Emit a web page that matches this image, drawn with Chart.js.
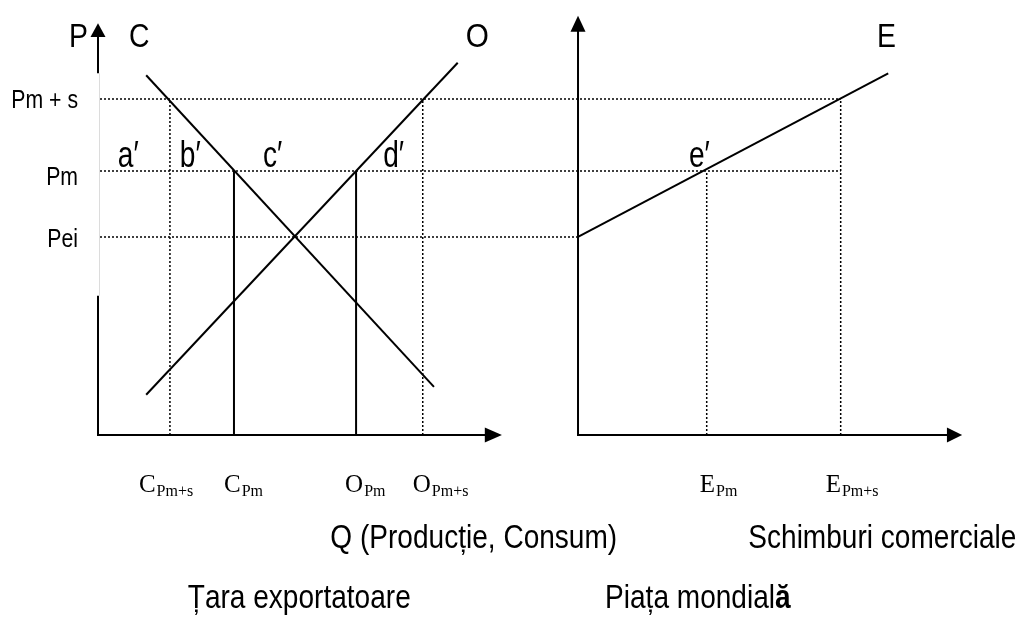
<!DOCTYPE html>
<html>
<head>
<meta charset="utf-8">
<script src="https://cdn.jsdelivr.net/npm/chart.js@4/dist/chart.umd.min.js"></script>
<style>
  html, body { margin: 0; padding: 0; background: #fff; }
  canvas { display: block; }
</style>
</head>
<body>
<canvas id="diagram" width="1020" height="617"></canvas>
<script>
// price levels (vertical axis, both panels)
var priceNames = ["Pm + s", "Pm", "Pei"];
var priceLevels = [5.09, 4.0, 3.0];

// quantities in the exporting country
var qtyNames = [["C", "Pm+s"], ["C", "Pm"], ["O", "Pm"], ["O", "Pm+s"]];
var qtyValues = [1.09, 2.06, 3.91, 4.92];

// world market exports
var exportNames = [["E", "Pm"], ["E", "Pm+s"]];
var exportValues = [1.95, 3.98];

// curves: consumption C, production O, exports E
var demandQ = [0.73, 5.09];
var demandP = [5.45, 0.73];
var supplyQ = [0.73, 5.45];
var supplyP = [0.61, 5.64];
var exportQ = [0, 4.70];
var exportP = [3.0, 5.48];

var sans = '"Liberation Sans", Arial, sans-serif';
var serif = '"Liberation Serif", "Times New Roman", serif';

function pts(xs, ys) {
	return xs.map(function (v, i) { return { x: v, y: ys[i] }; });
}

function line(label, data, axis, dashed, width) {
	return {
		label: label,
		data: data,
		xAxisID: axis,
		showLine: true,
		borderColor: "#000",
		borderWidth: width || 2,
		borderDash: dashed ? [2, 2] : [],
		pointRadius: 0,
		fill: false,
		clip: false
	};
}

// write text squeezed sideways like the narrow font of the original
function say(ctx, txt, x, y, size, align, bold, sx) {
	sx = sx || 0.85;
	ctx.save();
	ctx.font = (bold ? "bold " : "") + size + "px " + sans;
	ctx.textAlign = align || "left";
	ctx.textBaseline = "alphabetic";
	ctx.fillStyle = "#000";
	ctx.translate(x, y);
	ctx.scale(sx, 1);
	ctx.fillText(txt, 0, 0);
	var w = ctx.measureText(txt).width * sx;
	ctx.restore();
	return w;
}

function subLabel(ctx, parts, x, y) {
	ctx.save();
	ctx.fillStyle = "#000";
	ctx.textAlign = "left";
	ctx.textBaseline = "alphabetic";
	ctx.font = "25px " + serif;
	ctx.fillText(parts[0], x, y);
	var w = ctx.measureText(parts[0]).width;
	ctx.font = "16px " + serif;
	ctx.fillText(parts[1], x + w + 1, y + 4);
	ctx.restore();
}

function dotted(ctx, x0, y0, x1, y1) {
	ctx.save();
	ctx.strokeStyle = "#000";
	ctx.lineWidth = 1.5;
	ctx.setLineDash([2, 2]);
	ctx.beginPath();
	ctx.moveTo(x0, y0);
	ctx.lineTo(x1, y1);
	ctx.stroke();
	ctx.restore();
}

function arrowUp(ctx, x, tip, base) {
	ctx.beginPath();
	ctx.moveTo(x, tip);
	ctx.lineTo(x - 7.5, base);
	ctx.lineTo(x + 7.5, base);
	ctx.closePath();
	ctx.fill();
}

function arrowRight(ctx, tip, base, y) {
	ctx.beginPath();
	ctx.moveTo(tip, y);
	ctx.lineTo(base, y - 7.5);
	ctx.lineTo(base, y + 7.5);
	ctx.closePath();
	ctx.fill();
}

var diagramPlugin = {
	id: "diagram",
	beforeDatasetsDraw: function (chart) {
		var ctx = chart.ctx;
		var x = chart.scales.x, x2 = chart.scales.x2, y = chart.scales.y;
		var left = x.getPixelForValue(0);
		// horizontal guides across both panels
		var ends = [x2.getPixelForValue(exportValues[1]), x2.getPixelForValue(exportValues[1]), x2.getPixelForValue(0)];
		priceLevels.forEach(function (p, i) {
			var py = Math.round(y.getPixelForValue(p));
			dotted(ctx, left + 2, py, ends[i], py);
		});
	},
	afterDatasetsDraw: function (chart) {
		var ctx = chart.ctx;
		var x = chart.scales.x, x2 = chart.scales.x2, y = chart.scales.y;
		var ox = x.getPixelForValue(0), ox2 = x2.getPixelForValue(0), oy = y.getPixelForValue(0);

		ctx.save();
		ctx.fillStyle = "#000";
		ctx.strokeStyle = "#000";
		ctx.lineWidth = 2;
		ctx.setLineDash([]);

		// left panel axes (the middle of the price axis is faded in the original)
		ctx.beginPath();
		ctx.moveTo(ox, y.getPixelForValue(6.05));
		ctx.lineTo(ox, y.getPixelForValue(5.48));
		ctx.moveTo(ox, y.getPixelForValue(2.11));
		ctx.lineTo(ox, oy);
		ctx.lineTo(x.getPixelForValue(5.9), oy);
		ctx.stroke();
		ctx.save();
		ctx.strokeStyle = "#dcdcdc";
		ctx.lineWidth = 1;
		ctx.beginPath();
		ctx.moveTo(ox + 1.5, y.getPixelForValue(5.48));
		ctx.lineTo(ox + 1.5, y.getPixelForValue(2.11));
		ctx.stroke();
		ctx.restore();
		arrowUp(ctx, ox, y.getPixelForValue(6.24), y.getPixelForValue(6.03));
		arrowRight(ctx, x.getPixelForValue(6.12), x.getPixelForValue(5.86), oy);

		// right panel axes
		ctx.beginPath();
		ctx.moveTo(ox2, y.getPixelForValue(6.13));
		ctx.lineTo(ox2, oy);
		ctx.lineTo(x2.getPixelForValue(5.6), oy);
		ctx.stroke();
		arrowUp(ctx, ox2, y.getPixelForValue(6.35), y.getPixelForValue(6.11));
		arrowRight(ctx, x2.getPixelForValue(5.82), x2.getPixelForValue(5.59), oy);
		ctx.restore();

		// price tick labels
		var nudge = [9, 14, 10];
		priceNames.forEach(function (name, i) {
			say(ctx, name, ox - 20, y.getPixelForValue(priceLevels[i]) + nudge[i], 25, "right");
		});

		// quantity tick labels
		var dx = [-31, -10, -11, -10];
		qtyNames.forEach(function (parts, i) {
			subLabel(ctx, parts, x.getPixelForValue(qtyValues[i]) + dx[i], oy + 57);
		});
		var dx2 = [-7, -15];
		exportNames.forEach(function (parts, i) {
			subLabel(ctx, parts, x2.getPixelForValue(exportValues[i]) + dx2[i], oy + 57);
		});

		// curve names
		var top = y.getPixelForValue(5.88);
		say(ctx, "P", ox - 10, top, 33, "right", false, 0.86);
		say(ctx, "C", x.getPixelForValue(0.47), top, 33, "left", false, 0.86);
		say(ctx, "O", x.getPixelForValue(5.57), top, 33, "left", false, 0.9);
		say(ctx, "E", x2.getPixelForValue(4.53), top, 33, "left", false, 0.86);

		// points on the Pm line
		var py = y.getPixelForValue(4.06);
		say(ctx, "a\u2032", x.getPixelForValue(0.30), py, 36, "left", false, 0.78);
		say(ctx, "b\u2032", x.getPixelForValue(1.24), py, 36, "left", false, 0.78);
		say(ctx, "c\u2032", x.getPixelForValue(2.50), py, 36, "left", false, 0.78);
		say(ctx, "d\u2032", x.getPixelForValue(4.32), py, 36, "left", false, 0.78);
		say(ctx, "e\u2032", x2.getPixelForValue(1.68), py, 36, "left", false, 0.78);

		// axis titles
		say(ctx, "Q (Produc\u021Bie, Consum)", x.getPixelForValue(3.52), oy + 113, 33);
		say(ctx, "Schimburi comerciale", x2.getPixelForValue(2.58), oy + 113, 33);
		say(ctx, "\u021Aara exportatoare", x.getPixelForValue(1.36), oy + 173, 33);
		var w = say(ctx, "Pia\u021Ba mondial", x2.getPixelForValue(0.41), oy + 173, 33);
		say(ctx, "\u0103", x2.getPixelForValue(0.41) + w, oy + 173, 33, "left", true);
	}
};

var datasets = [
	line("C Pm+s", pts([qtyValues[0], qtyValues[0]], [0, priceLevels[0]]), "x", true, 1.5),
	line("O Pm+s", pts([qtyValues[3], qtyValues[3]], [0, priceLevels[0]]), "x", true, 1.5),
	line("E Pm", pts([exportValues[0], exportValues[0]], [0, priceLevels[1]]), "x2", true, 1.5),
	line("E Pm+s", pts([exportValues[1], exportValues[1]], [0, priceLevels[0]]), "x2", true, 1.5),
	line("C Pm", pts([qtyValues[1], qtyValues[1]], [0, priceLevels[1]]), "x"),
	line("O Pm", pts([qtyValues[2], qtyValues[2]], [0, priceLevels[1]]), "x"),
	line("C", pts(demandQ, demandP), "x"),
	line("O", pts(supplyQ, supplyP), "x"),
	line("E", pts(exportQ, exportP), "x2")
];

new Chart(document.getElementById("diagram"), {
	type: "scatter",
	data: { datasets: datasets },
	options: {
		responsive: false,
		animation: false,
		layout: { padding: { left: 98, right: 58, top: 16, bottom: 182 } },
		plugins: { legend: { display: false }, tooltip: { enabled: false } },
		scales: {
			x: { type: "linear", min: 0, max: 13.09, display: false },
			x2: { type: "linear", axis: "x", min: -7.273, max: 5.818, display: false },
			y: { type: "linear", min: 0, max: 6.348, display: false }
		}
	},
	plugins: [diagramPlugin]
});
</script>
</body>
</html>
